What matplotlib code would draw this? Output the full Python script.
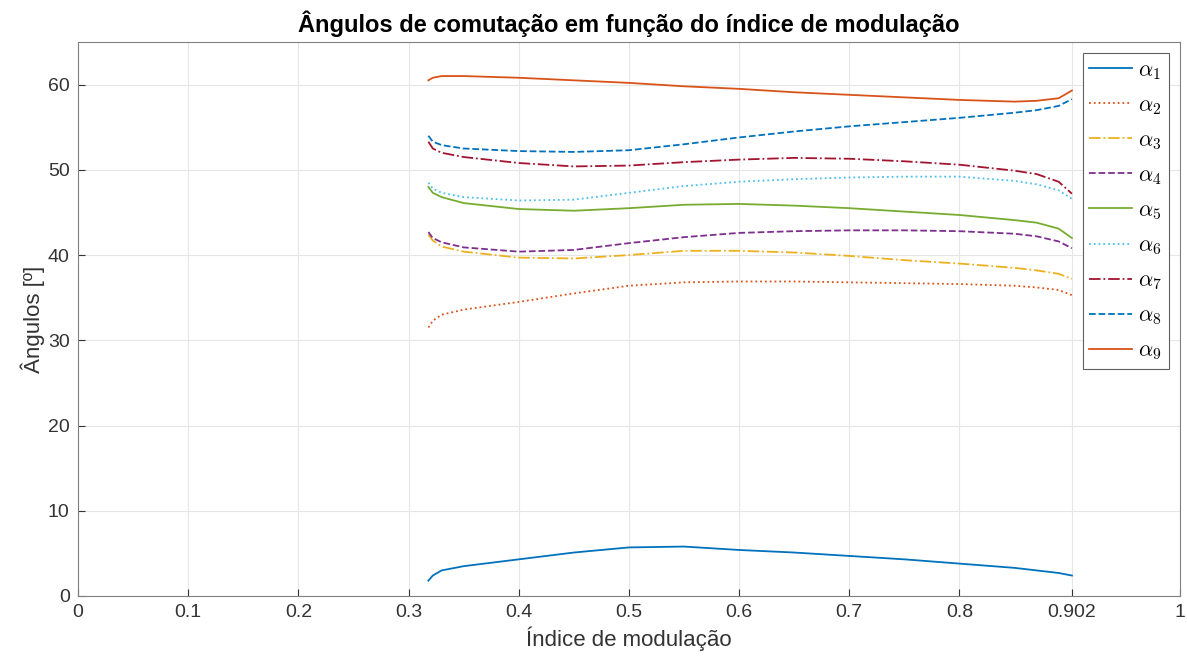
import matplotlib
matplotlib.use('Agg')
import matplotlib.pyplot as plt

plt.rcParams['font.family'] = ['Liberation Sans', 'DejaVu Sans']
plt.rcParams['mathtext.fontset'] = 'cm'

# índice de modulação
m = [0.318, 0.322, 0.33, 0.35, 0.4, 0.45, 0.5, 0.55, 0.6, 0.65, 0.7, 0.75,
     0.8, 0.85, 0.87, 0.89, 0.902]

a1 = [1.8, 2.4, 3.0, 3.5, 4.3, 5.1, 5.7, 5.8, 5.4, 5.1, 4.7, 4.3,
      3.8, 3.3, 3.0, 2.7, 2.4]
a2 = [31.5, 32.3, 33.0, 33.6, 34.5, 35.5, 36.4, 36.8, 36.9, 36.9, 36.8, 36.7,
      36.6, 36.4, 36.2, 35.9, 35.3]
a3 = [42.4, 41.7, 41.0, 40.4, 39.7, 39.6, 40.0, 40.5, 40.5, 40.3, 39.9, 39.4,
      39.0, 38.5, 38.2, 37.8, 37.2]
a4 = [42.7, 42.0, 41.5, 40.9, 40.4, 40.6, 41.4, 42.1, 42.6, 42.8, 42.9, 42.9,
      42.8, 42.5, 42.2, 41.6, 40.8]
a5 = [48.0, 47.3, 46.8, 46.1, 45.4, 45.2, 45.5, 45.9, 46.0, 45.8, 45.5, 45.1,
      44.7, 44.1, 43.8, 43.1, 42.0]
a6 = [48.5, 47.8, 47.3, 46.8, 46.4, 46.5, 47.3, 48.1, 48.6, 48.9, 49.1, 49.2,
      49.2, 48.7, 48.3, 47.6, 46.6]
a7 = [53.3, 52.5, 52.0, 51.5, 50.8, 50.4, 50.5, 50.9, 51.2, 51.4, 51.3, 51.0,
      50.6, 49.9, 49.5, 48.6, 47.2]
a8 = [54.0, 53.3, 52.9, 52.5, 52.2, 52.1, 52.3, 53.0, 53.8, 54.5, 55.1, 55.6,
      56.1, 56.7, 57.0, 57.5, 58.3]
a9 = [60.5, 60.8, 61.0, 61.0, 60.8, 60.5, 60.2, 59.8, 59.5, 59.1, 58.8, 58.5,
      58.2, 58.0, 58.1, 58.4, 59.3]

series = [a1, a2, a3, a4, a5, a6, a7, a8, a9]
cores = ['#0072BD', '#D95319', '#EDB120', '#7E2F8E', '#77AC30', '#4DBEEE',
         '#A2142F', '#0072BD', '#D95319']
estilos = ['-', ':', '-.', '--', '-', ':', '-.', '--', '-']

xticks = [0, 0.1, 0.2, 0.3, 0.4, 0.5, 0.6, 0.7, 0.8, 0.902, 1]
xtick_labels = ['0', '0.1', '0.2', '0.3', '0.4', '0.5', '0.6', '0.7', '0.8', '0.902', '1']
yticks = [0, 10, 20, 30, 40, 50, 60]

fig = plt.figure(figsize=(11.87, 6.62), dpi=100)
ax = fig.add_axes([0.0657, 0.0997, 0.9283, 0.8369])

for i, s in enumerate(series):
    ax.plot(m, s, color=cores[i], linestyle=estilos[i], linewidth=1.3,
            label=r'$\alpha_{\mathsf{%d}}$' % (i + 1))

ax.set_xlim(0, 1)
ax.set_ylim(0, 65)
ax.set_xticks(xticks)
ax.set_xticklabels(xtick_labels)
ax.set_yticks(yticks)
ax.grid(True, color='#e6e6e6', linewidth=0.8)
ax.set_axisbelow(True)
ax.tick_params(direction='in', colors='#333333', labelsize=14, length=5,
               top=False, right=False, pad=6)
for sp in ax.spines.values():
    sp.set_color('#808080')

ax.set_xlabel('Índice de modulação', fontsize=16, color='#333333', labelpad=4)
ax.set_ylabel('Ângulos [º]', fontsize=16, color='#333333', labelpad=2)
ax.set_title('Ângulos de comutação em função do índice de modulação',
             fontsize=17, fontweight='bold', pad=7)

leg = ax.legend(loc='upper right', fontsize=16, fancybox=False,
                edgecolor='#606060', framealpha=1, handlelength=1.9,
                labelspacing=0.6, borderaxespad=0.5, handletextpad=0.3,
                borderpad=0.3)
leg.get_frame().set_linewidth(0.8)

fig.savefig('out.png', dpi=100)
